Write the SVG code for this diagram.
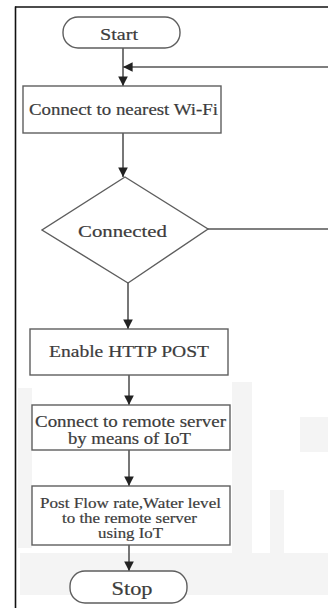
<svg xmlns="http://www.w3.org/2000/svg" width="328" height="608" viewBox="0 0 328 608">
<defs>
<style>
.bg{fill:#ebebeb}
.node{fill:#fff;stroke:#5e5e5e;stroke-width:1.4}
.term{fill:#fff;stroke:#5e5e5e;stroke-width:1.4}
.t{font-family:"Liberation Serif","Times New Roman",serif;fill:#3c3c3c;text-anchor:middle;stroke:#3c3c3c;stroke-width:0.2}
.c{fill:none;stroke:#555;stroke-width:1.6}
</style>
<marker id="ah" viewBox="0 0 10 10" refX="10" refY="5" markerWidth="6" markerHeight="6" orient="auto" markerUnits="strokeWidth">
<path d="M0,0 L10,5 L0,10 Z" fill="#222"/>
</marker>
</defs>
<rect width="328" height="608" fill="#fff"/>
<g id="watermark" opacity="0.5">
<rect class="bg" x="18" y="388" width="14" height="160"/>
<rect class="bg" x="232" y="382" width="20" height="178"/>
<rect class="bg" x="300" y="417" width="28" height="35"/>
<rect class="bg" x="20" y="553" width="308" height="42"/>
<rect class="bg" x="270" y="490" width="14" height="70"/>
</g>
<g id="frame">
<line x1="15" y1="7" x2="328" y2="7" stroke="#111" stroke-width="1.6"/>
<line x1="15.5" y1="6.5" x2="15.5" y2="608" stroke="#111" stroke-width="1.6"/>
</g>
<g id="connectors">
<line class="c" x1="123" y1="48" x2="123" y2="86" marker-end="url(#ah)"/>
<path class="c" d="M208,229 H340 V67 H123" marker-end="url(#ah)"/>
<line class="c" x1="123" y1="133" x2="123" y2="177" marker-end="url(#ah)"/>
<line class="c" x1="128" y1="283" x2="128" y2="329" marker-end="url(#ah)"/>
<line class="c" x1="129" y1="375" x2="129" y2="405" marker-end="url(#ah)"/>
<line class="c" x1="129" y1="450" x2="129" y2="486" marker-end="url(#ah)"/>
<line class="c" x1="129" y1="545" x2="129" y2="571" marker-end="url(#ah)"/>
</g>
<g id="start">
<rect class="term" x="63" y="17" width="117" height="31" rx="15" ry="15"/>
<text class="t" x="119" y="40" font-size="17" textLength="38" lengthAdjust="spacingAndGlyphs">Start</text>
</g>
<g id="connect-wifi">
<rect class="node" x="23" y="86" width="198" height="47"/>
<text class="t" x="123.5" y="115" font-size="16" textLength="189" lengthAdjust="spacingAndGlyphs">Connect to nearest Wi-Fi</text>
</g>
<g id="connected">
<polygon class="node" points="125,177 208,229 128,283 42,230"/>
<text class="t" x="122.5" y="237" font-size="17" textLength="89" lengthAdjust="spacingAndGlyphs">Connected</text>
</g>
<g id="enable-http">
<rect class="node" x="30" y="329" width="198" height="46"/>
<text class="t" x="129" y="357" font-size="16" textLength="160" lengthAdjust="spacingAndGlyphs">Enable HTTP POST</text>
</g>
<g id="connect-server">
<rect class="node" x="32" y="405" width="198" height="45"/>
<text class="t" x="130.5" y="427" font-size="16" textLength="191" lengthAdjust="spacingAndGlyphs">Connect to remote server</text>
<text class="t" x="129.5" y="444" font-size="16" textLength="123" lengthAdjust="spacingAndGlyphs">by means of IoT</text>
</g>
<g id="post-data">
<rect class="node" x="32" y="486" width="198" height="59"/>
<text class="t" x="130.5" y="508" font-size="15" textLength="181" lengthAdjust="spacingAndGlyphs">Post Flow rate,Water level</text>
<text class="t" x="129.5" y="523" font-size="15" textLength="135" lengthAdjust="spacingAndGlyphs">to the remote server</text>
<text class="t" x="130.5" y="538" font-size="15" textLength="65" lengthAdjust="spacingAndGlyphs">using IoT</text>
</g>
<g id="stop">
<rect class="term" x="70" y="571" width="117" height="32" rx="15" ry="15"/>
<text class="t" x="132" y="595" font-size="18" textLength="41" lengthAdjust="spacingAndGlyphs">Stop</text>
</g>
</svg>
